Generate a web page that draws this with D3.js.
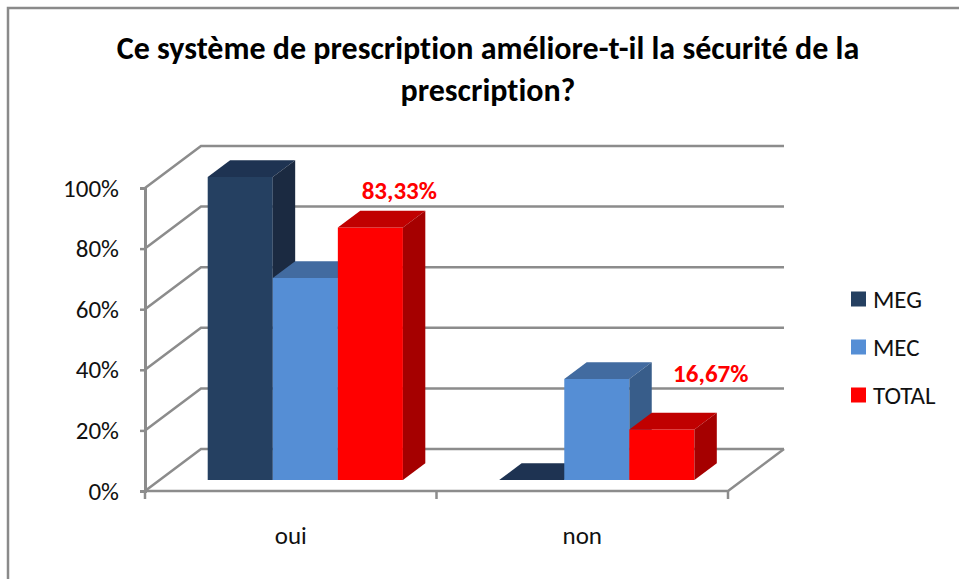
<!DOCTYPE html>
<html>
<head>
<meta charset="utf-8">
<script src="https://cdn.jsdelivr.net/npm/d3@7"></script>
<style>
    body { margin: 0; background: #fff; }
    svg { display: block; font-family: Calibri, Carlito, Lato, sans-serif; font-variant-ligatures: none; }
</style>
</head>
<body>
<div id="chart"></div>
<script>
var categories = ["oui", "non"],
    seriesNames = ["MEG", "MEC", "TOTAL"],
    megValues = [100, 0],
    mecValues = [66.67, 33.33],
    totalValues = [83.33, 16.67],
    totalLabels = ["83,33%", "16,67%"],
    yTicks = [0, 20, 40, 60, 80, 100],
    titleLines = ["Ce système de prescription améliore-t-il la sécurité de la", "prescription?"];

var seriesValues = [megValues, mecValues, totalValues];

var colors = {
    MEG:   {front: "#254061", top: "#1e3352", side: "#1b2a41"},
    MEC:   {front: "#558ed5", top: "#426ba0", side: "#385d8a"},
    TOTAL: {front: "#ff0000", top: "#c00000", side: "#a50000"}
};

var width = 959, height = 579;
var gridColor = "#8c8c8c";

// floor front edge and 3D depth of the plot box
var plot = { left: 145, right: 728, bottom: 491, top: 188 },
    depth = { dx: 56, dy: -42 },
    barZ0 = 0.26, barZ1 = 0.66;

var svg = d3.select("#chart")
    .append("svg")
    .attr("width", width)
    .attr("height", height);

// outer frame (right and bottom edges fall outside the picture)
svg.append("path")
    .attr("d", "M8," + height + "V8H" + width)
    .attr("fill", "none")
    .attr("stroke", "#8a8a8a")
    .attr("stroke-width", 2.5);

// Title
svg.append("g")
    .selectAll("text")
    .data(titleLines)
    .enter()
    .append("text")
    .attr("x", 488)
    .attr("y", function (d, i) { return 59 + i * 42; })
    .attr("text-anchor", "middle")
    .attr("font-size", 32)
    .attr("font-weight", "bold")
    .attr("fill", "#000")
    .text(function (d) { return d; });

var xScale = d3.scaleBand()
    .domain(categories)
    .range([plot.left, plot.right]);

var xSeries = d3.scaleBand()
    .domain(seriesNames)
    .range([0, xScale.bandwidth()])
    .paddingOuter(0.74)
    .paddingInner(0);

var yScale = d3.scaleLinear()
    .domain([0, 100])
    .range([plot.bottom, plot.top]);

// Gridlines: left wall diagonals + back wall horizontals
var grid = svg.append("g")
    .attr("stroke", gridColor)
    .attr("stroke-width", 2.5)
    .attr("fill", "none");

grid.selectAll("path.gridline")
    .data(yTicks)
    .enter()
    .append("path")
    .attr("class", "gridline")
    .attr("d", function (t) {
        var yF = yScale(t);
        return "M" + plot.left + "," + yF +
            "L" + (plot.left + depth.dx) + "," + (yF + depth.dy) +
            "H" + (plot.right + depth.dx);
    });

// floor front and right edges
grid.append("path")
    .attr("d", "M" + plot.left + "," + plot.bottom + "H" + plot.right +
        "L" + (plot.right + depth.dx) + "," + (plot.bottom + depth.dy));

// Y axis
var yAxis = svg.append("g")
    .attr("transform", "translate(" + plot.left + ",0)")
    .call(d3.axisLeft(yScale)
        .tickValues(yTicks)
        .tickSize(5)
        .tickPadding(21)
        .tickFormat(function (d) { return d + "%"; }));

yAxis.select(".domain").attr("stroke", gridColor).attr("stroke-width", 3);
yAxis.selectAll(".tick line").attr("stroke", gridColor).attr("stroke-width", 2.5);
yAxis.selectAll(".tick text")
    .attr("font-size", 25)
    .attr("font-family", "Calibri, Carlito, Lato, sans-serif")
    .attr("fill", "#111");

// X axis (category boundaries ticks)
var xAxis = svg.append("g")
    .attr("transform", "translate(0," + plot.bottom + ")");

xAxis.selectAll("line")
    .data([plot.left, plot.left + xScale.bandwidth(), plot.right])
    .enter()
    .append("line")
    .attr("x1", function (d) { return d; })
    .attr("x2", function (d) { return d; })
    .attr("y1", 0)
    .attr("y2", 8)
    .attr("stroke", gridColor)
    .attr("stroke-width", 2.5);

xAxis.selectAll("text")
    .data(categories)
    .enter()
    .append("text")
    .attr("x", function (d) { return xScale(d) + xScale.bandwidth() / 2; })
    .attr("y", 53)
    .attr("text-anchor", "middle")
    .attr("font-size", 25)
    .attr("fill", "#111")
    .text(function (d) { return d; });

// 3D bars
var barDx = (barZ1 - barZ0) * depth.dx,
    barDy = (barZ1 - barZ0) * depth.dy;

var bars = [];
categories.forEach(function (cat, ci) {
    seriesNames.forEach(function (s, si) {
        bars.push({cat: cat, series: s, value: seriesValues[si][ci]});
    });
});

var barGroups = svg.append("g")
    .selectAll("g.bar")
    .data(bars)
    .enter()
    .append("g")
    .attr("class", "bar");

function barGeom(d) {
    var x0 = xScale(d.cat) + xSeries(d.series) + barZ0 * depth.dx,
        x1 = x0 + xSeries.bandwidth(),
        yb = yScale(0) + barZ0 * depth.dy,
        yt = yScale(d.value) + barZ0 * depth.dy;
    return {x0: x0, x1: x1, yb: yb, yt: yt};
}

// front
barGroups.append("path")
    .attr("fill", function (d) { return colors[d.series].front; })
    .attr("d", function (d) {
        var g = barGeom(d);
        return "M" + g.x0 + "," + g.yb + "V" + g.yt + "H" + g.x1 + "V" + g.yb + "Z";
    });

// top
barGroups.append("path")
    .attr("fill", function (d) { return colors[d.series].top; })
    .attr("d", function (d) {
        var g = barGeom(d);
        return "M" + g.x0 + "," + g.yt +
            "L" + (g.x0 + barDx) + "," + (g.yt + barDy) +
            "H" + (g.x1 + barDx) +
            "L" + g.x1 + "," + g.yt + "Z";
    });

// side
barGroups.append("path")
    .attr("fill", function (d) { return colors[d.series].side; })
    .attr("d", function (d) {
        var g = barGeom(d);
        return "M" + g.x1 + "," + g.yb +
            "V" + g.yt +
            "L" + (g.x1 + barDx) + "," + (g.yt + barDy) +
            "V" + (g.yb + barDy) + "Z";
    });

// Data labels for TOTAL (Excel places them on a slightly receding plane)
var labelY = d3.scaleLinear().domain([0, 100]).range([428, 153]);

svg.append("g")
    .selectAll("text")
    .data(categories)
    .enter()
    .append("text")
    .attr("x", function (d) {
        var g = barGeom({cat: d, series: "TOTAL", value: 0});
        var c = (g.x0 + g.x1) / 2;
        return c + (c - plot.left) * 0.0685 + 13.5;
    })
    .attr("y", function (d, i) { return labelY(totalValues[i]); })
    .attr("text-anchor", "middle")
    .attr("font-size", 25)
    .attr("font-weight", "bold")
    .attr("fill", "#ff0000")
    .text(function (d, i) { return totalLabels[i]; });

// Legend
var legend = svg.append("g")
    .selectAll("g")
    .data(seriesNames)
    .enter()
    .append("g")
    .attr("transform", function (d, i) { return "translate(851," + (299 + i * 48) + ")"; });

legend.append("rect")
    .attr("x", 0)
    .attr("y", -7.5)
    .attr("width", 15)
    .attr("height", 15)
    .attr("fill", function (d) { return colors[d].front; });

legend.append("text")
    .attr("x", 22)
    .attr("y", 9)
    .attr("font-size", 25)
    .attr("fill", "#111")
    .text(function (d) { return d; });
</script>
</body>
</html>
